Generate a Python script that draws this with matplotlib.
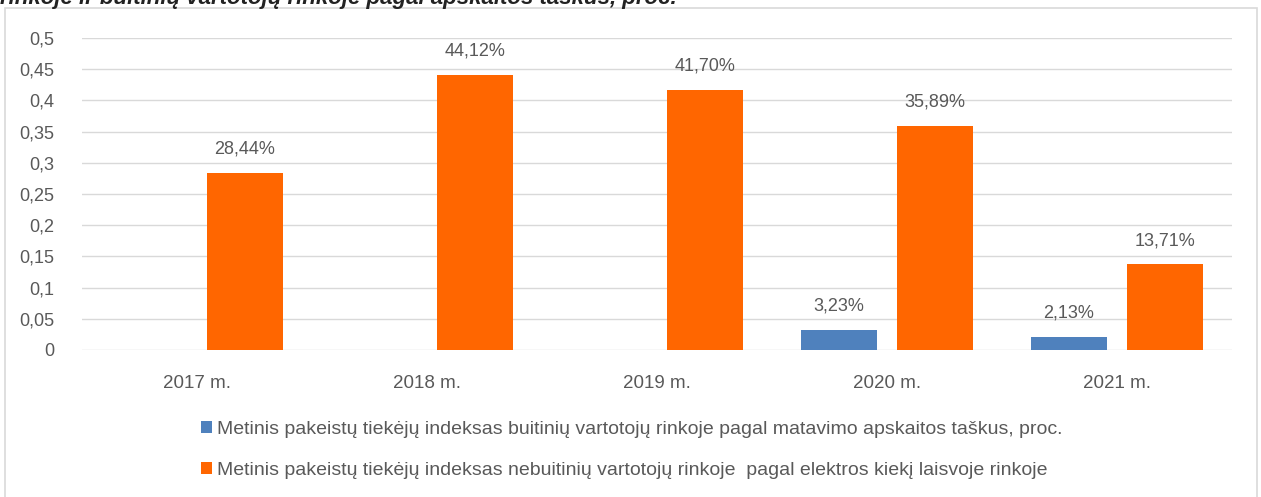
import matplotlib
matplotlib.use("Agg")
import matplotlib.pyplot as plt
from matplotlib.patches import Rectangle
import numpy as np

plt.rcParams['font.family'] = ['Liberation Sans', 'DejaVu Sans']

metai = ["2017 m.", "2018 m.", "2019 m.", "2020 m.", "2021 m."]
buitiniai = [0, 0, 0, 0.0323, 0.0213]
nebuitiniai = [0.2844, 0.4412, 0.4170, 0.3589, 0.1371]
etiketes_buit = ["", "", "", "3,23%", "2,13%"]
etiketes_nebuit = ["28,44%", "44,12%", "41,70%", "35,89%", "13,71%"]
y_ticks = [0, 0.05, 0.1, 0.15, 0.2, 0.25, 0.3, 0.35, 0.4, 0.45, 0.5]
y_tick_labels = ["0", "0,05", "0,1", "0,15", "0,2", "0,25", "0,3", "0,35", "0,4", "0,45", "0,5"]

MELYNA = "#4f81bd"
ORANZINE = "#ff6600"
TEKSTAS = "#595959"

fig = plt.figure(figsize=(12.61, 4.97), dpi=100)
ax = fig.add_axes([0.065, 0.2958, 0.912, 0.6277])

# remelis aplink diagrama
fig.patches.append(Rectangle((5 / 1261, -0.01), 1252 / 1261, 1 - 8 / 497 + 0.01,
                             transform=fig.transFigure, fill=False,
                             edgecolor="#d9d9d9", linewidth=1.2))

# nukirpta antraste virsuje
fig.text(0.0, 1 - 4 / 497, "rinkoje ir buitinių vartotojų rinkoje pagal apskaitos taškus, proc.",
         fontsize=16, style="italic", fontweight="bold", color="#222222", va="baseline", ha="left")

x = np.arange(len(metai))
plotis = 0.33
b1 = ax.bar(x - 0.209, buitiniai, plotis, color=MELYNA,
            label="Metinis pakeistų tiekėjų indeksas buitinių vartotojų rinkoje pagal matavimo apskaitos taškus, proc.")
b2 = ax.bar(x + 0.209, nebuitiniai, plotis, color=ORANZINE,
            label="Metinis pakeistų tiekėjų indeksas nebuitinių vartotojų rinkoje  pagal elektros kiekį laisvoje rinkoje")

ax.bar_label(b1, labels=etiketes_buit, padding=11, fontsize=13, color=TEKSTAS)
ax.bar_label(b2, labels=etiketes_nebuit, padding=11, fontsize=13, color=TEKSTAS)

ax.set_xlim(-0.5, len(metai) - 0.5)
ax.set_ylim(0, 0.5)
ax.set_yticks(y_ticks)
ax.set_yticklabels(y_tick_labels)
ax.set_xticks(x)
ax.set_xticklabels(metai)
ax.tick_params(axis="both", length=0, labelsize=13, labelcolor=TEKSTAS)
ax.tick_params(axis="x", labelsize=13.5, pad=18)
ax.tick_params(axis="y", pad=20)
ax.grid(axis="y", color="#d9d9d9", linewidth=1)
ax.set_axisbelow(True)
for s in ax.spines.values():
    s.set_visible(False)

fig.legend(loc="upper left", bbox_to_anchor=(193 / 1261, 1 - 413 / 497), frameon=False,
           fontsize=14, labelcolor=TEKSTAS, handlelength=0.6, handleheight=0.6,
           handletextpad=0.25, labelspacing=1.25, borderaxespad=0)

fig.savefig("out.png", dpi=100)
